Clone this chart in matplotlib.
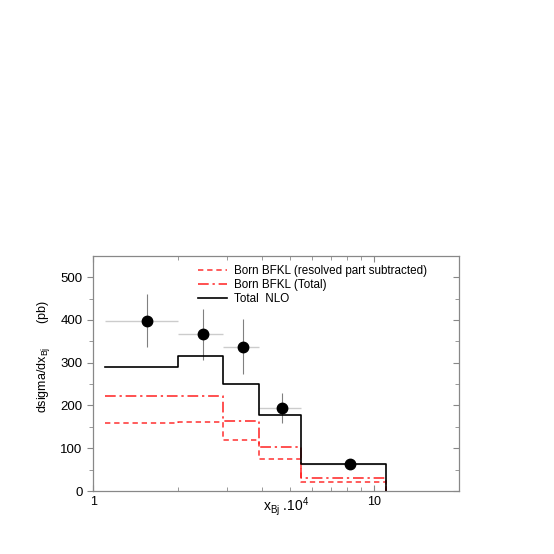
import numpy as np
import matplotlib.pyplot as plt
from matplotlib.ticker import FixedLocator, NullFormatter

plt.rcParams['font.family'] = ['Liberation Sans', 'DejaVu Sans']
plt.rcParams['mathtext.fontset'] = 'custom'
plt.rcParams['mathtext.rm'] = 'Liberation Sans'

# bin edges in x_Bj * 10^4
edges = [1.1, 2.0, 2.9, 3.9, 5.5, 11.0]
nlo_total = [290, 315, 250, 178, 62]
born_total = [221, 221, 163, 104, 30]
born_resolved_sub = [160, 162, 120, 75, 22]

# data points
x_data = [1.56, 2.46, 3.40, 4.69, 8.2]
y_data = [398, 366, 337, 193, 64]
y_err = [62, 60, 64, 35, 8]
x_lo = [1.1, 2.0, 2.9, 3.9, 5.5]
x_hi = [2.0, 2.9, 3.9, 5.5, 11.0]


def hist_line(ax, vals, **kw):
    x = np.r_[edges, edges[-1]]
    y = np.r_[vals, vals[-1], 0]
    ax.step(x, y, where='post', **kw)


fig = plt.figure(figsize=(5.54, 5.54), dpi=100)
ax = fig.add_axes([0.168, 0.1137, 0.6605, 0.4247])

xd = np.array(x_data)
xerr = [xd - np.array(x_lo), np.array(x_hi) - xd]
ax.errorbar(x_data, y_data, xerr=xerr, fmt='none', ecolor='#cccccc', elinewidth=1.0, zorder=1)
ax.errorbar(x_data, y_data, yerr=y_err, fmt='none', ecolor='#808080', elinewidth=0.8, zorder=1)

hist_line(ax, born_resolved_sub, color='#ff3030', linestyle=(0, (3.5, 2.5)), linewidth=1.1,
          label='Born BFKL (resolved part subtracted)', zorder=2)
hist_line(ax, born_total, color='#ff2020', linestyle=(0, (7, 2.5, 1.5, 2.5)), linewidth=1.1,
          label='Born BFKL (Total)', zorder=2)
hist_line(ax, nlo_total, color='black', linewidth=1.2, label='Total  NLO', zorder=3)

ax.plot(x_data, y_data, 'o', color='black', markersize=7.5, zorder=4)

ax.set_xscale('log')
ax.set_xlim(1, 20)
ax.set_ylim(0, 550)
ax.xaxis.set_major_locator(FixedLocator([1, 10]))
ax.xaxis.set_minor_locator(FixedLocator([2, 3, 4, 5, 6, 7, 8, 9, 20]))
ax.xaxis.set_major_formatter(plt.FuncFormatter(lambda v, p: f'{v:g}'))
ax.xaxis.set_minor_formatter(NullFormatter())
ax.set_yticks([0, 100, 200, 300, 400, 500])
ax.set_yticks(np.arange(50, 550, 100), minor=True)

for s in ax.spines.values():
    s.set_color('#888888')
    s.set_linewidth(0.9)
ax.tick_params(axis='x', which='both', direction='in', top=True, colors='#888888',
               labelcolor='black', labelsize=9)
ax.tick_params(axis='y', which='both', direction='out', colors='#888888',
               labelcolor='black', labelsize=9.5)
ax.tick_params(which='major', length=4)
ax.tick_params(which='minor', length=3)

# inward ticks on the right side
ax2 = ax.twinx()
ax2.set_ylim(0, 550)
ax2.set_yticks([0, 100, 200, 300, 400, 500])
ax2.set_yticks(np.arange(50, 550, 100), minor=True)
ax2.tick_params(axis='y', which='both', direction='in', colors='#888888', labelright=False)
ax2.tick_params(which='major', length=4)
ax2.tick_params(which='minor', length=3)
for s in ax2.spines.values():
    s.set_visible(False)

fig.text(286 / 554, 1 - 507 / 554, r'x$_{\rm Bj}$ .10$^4$', fontsize=10,
         ha='center', va='center')
fig.text(43 / 554, 1 - 356 / 554, r'dsigma/dx$_{\rm Bj}$       (pb)', fontsize=9,
         rotation=90, ha='center', va='center')

ax.legend(loc='upper left', bbox_to_anchor=(0.268, 0.99), frameon=False, fontsize=8.4,
          handlelength=2.5, handletextpad=0.6, labelspacing=0.18, borderaxespad=0.2)

fig.savefig('out.png', dpi=100)
